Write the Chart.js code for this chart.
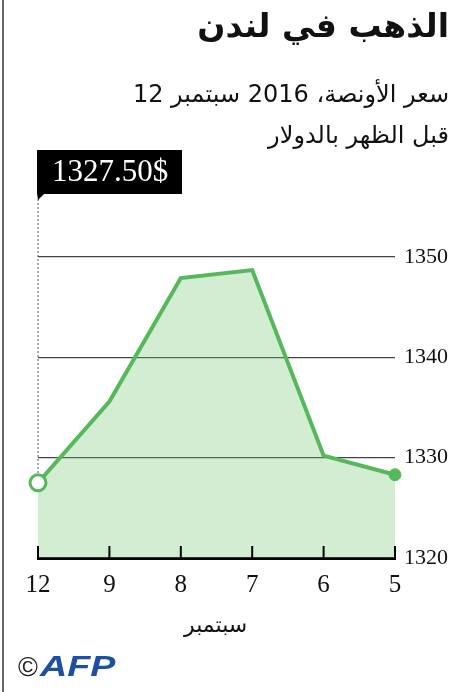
<!DOCTYPE html>
<html lang="ar">
<head>
<meta charset="utf-8">
<script src="https://cdn.jsdelivr.net/npm/chart.js@4"></script>
<style>
  html, body { margin: 0; padding: 0; background: #fff; }
  #page { position: relative; width: 451px; height: 692px; overflow: hidden; border-left: 2px solid #666; box-sizing: border-box; margin-left: 2px; }
  .ar { position: absolute; right: 4px; direction: rtl; font-family: "DejaVu Sans", sans-serif; color: #111; white-space: nowrap; }
  #title { top: 6px; font-size: 33px; font-weight: bold; }
  #sub1 { top: 80px; font-size: 24px; }
  #sub2 { top: 121px; font-size: 24px; }
  #month { position: absolute; left: 180px; top: 612px; direction: rtl; font-family: "DejaVu Sans", sans-serif; font-size: 22px; color: #111; }
  #logo { position: absolute; left: 14px; top: 650px; font-family: "Liberation Sans", sans-serif; white-space: nowrap; }
  #logo .c { font-size: 27px; color: #222; }
  #logo .afp { display: inline-block; font-size: 29px; font-weight: bold; font-style: italic; color: #1d4fa3; transform: scaleX(1.3); transform-origin: left center; margin-left: 2px; }
  canvas { position: absolute; left: -2px; top: 0; }
</style>
</head>
<body>
<div id="page">
  <canvas id="myChart" width="451" height="692"></canvas>
  <div class="ar" id="title">الذهب في لندن</div>
  <div class="ar" id="sub1">سعر الأونصة، 2016 سبتمبر 12</div>
  <div class="ar" id="sub2">قبل الظهر بالدولار</div>
  <div id="month">سبتمبر</div>
  <div id="logo"><span class="c">©</span><span class="afp">AFP</span></div>
</div>
<script>
// dias de setembro (da esquerda para a direita, como no original)
const dias = ["12", "9", "8", "7", "6", "5"];
// preço da onça antes do meio-dia, em dólares
const precos = [1327.5, 1335.6, 1347.9, 1348.7, 1330.2, 1328.3];
const yMin = 1320;
const yMax = 1350;
const yStep = 10;
const rotuloPreco = "1327.50$";

const verde = "#55b85a";
const serif = "'Liberation Serif', 'DejaVu Serif', serif";

// caixa preta com o último preço, linha pontilhada e marcas do eixo x
const caixaPreco = {
  id: "caixaPreco",
  afterDatasetsDraw(chart) {
    const { ctx, scales } = chart;
    const pt = chart.getDatasetMeta(0).data[0];
    const x = pt.x;
    ctx.save();

    // linha pontilhada
    ctx.strokeStyle = "#555";
    ctx.lineWidth = 1;
    ctx.setLineDash([2, 2]);
    ctx.beginPath();
    ctx.moveTo(x, 199);
    ctx.lineTo(x, pt.y - 8);
    ctx.stroke();
    ctx.setLineDash([]);

    // caixa
    ctx.fillStyle = "#000";
    ctx.fillRect(x - 1, 150, 145, 44);
    ctx.beginPath();
    ctx.moveTo(x - 1, 193);
    ctx.lineTo(x + 7, 193);
    ctx.lineTo(x, 200);
    ctx.closePath();
    ctx.fill();

    ctx.fillStyle = "#fff";
    ctx.font = "31px " + serif;
    ctx.textAlign = "center";
    ctx.textBaseline = "middle";
    ctx.fillText(rotuloPreco, x + 72, 173);

    // marcas do eixo x, para cima
    const xs = scales.x;
    const base = chart.chartArea.bottom;
    ctx.strokeStyle = "#000";
    ctx.lineWidth = 2;
    dias.forEach((d, i) => {
      const px = xs.getPixelForValue(i);
      ctx.beginPath();
      ctx.moveTo(px, base);
      ctx.lineTo(px, base - 12);
      ctx.stroke();
    });
    ctx.restore();
  },
};

const ctx = document.getElementById("myChart").getContext("2d");

window.myChart = new Chart(ctx, {
  type: "line",
  data: {
    labels: dias,
    datasets: [
      {
        data: precos,
        borderColor: verde,
        borderWidth: 4,
        backgroundColor: "rgba(110, 195, 110, 0.3)",
        fill: "start",
        tension: 0,
        pointRadius: (c) => (c.dataIndex === 0 ? 8 : c.dataIndex === precos.length - 1 ? 6 : 0),
        pointBackgroundColor: (c) => (c.dataIndex === 0 ? "#fff" : verde),
        pointBorderColor: verde,
        pointBorderWidth: (c) => (c.dataIndex === 0 ? 3 : 1),
      },
    ],
  },
  options: {
    responsive: false,
    animation: false,
    layout: { padding: { left: 36, top: 257, right: 0, bottom: 0 } },
    plugins: { legend: { display: false }, tooltip: { enabled: false } },
    scales: {
      x: {
        offset: false,
        grid: { display: false, drawTicks: false },
        border: { display: true, color: "#000", width: 3 },
        ticks: { color: "#111", font: { family: serif, size: 25 }, padding: 12, maxRotation: 0 },
        afterFit: (s) => { s.height = 692 - 558; },
      },
      y: {
        position: "right",
        min: yMin,
        max: yMax,
        grid: {
          drawTicks: false,
          color: (c) => (c.tick && c.tick.value === yMin ? "rgba(0,0,0,0)" : "#444"),
          lineWidth: 1.2,
        },
        border: { display: false },
        ticks: {
          stepSize: yStep,
          color: "#111",
          font: { family: serif, size: 22 },
          padding: 9,
          callback: (v) => String(v),
        },
        afterFit: (s) => { s.width = 451 - 393; },
      },
    },
  },
  plugins: [caixaPreco],
});
</script>
</body>
</html>
